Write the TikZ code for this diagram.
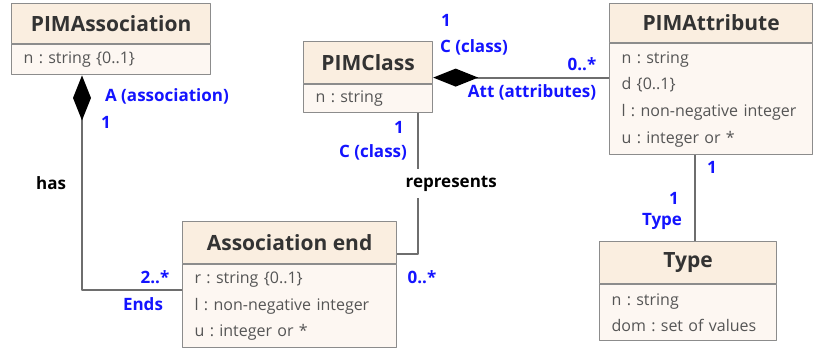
\documentclass[tikz,border=0pt]{standalone}
\usepackage{fontspec}
\setmainfont{Open Sans}
\frenchspacing
\hyphenpenalty=10000
\usetikzlibrary{arrows.meta}
\definecolor{headfill}{RGB}{250,238,224}
\definecolor{bodyfill}{RGB}{253,247,242}
\definecolor{boxline}{RGB}{140,140,140}
\definecolor{titletxt}{RGB}{51,51,51}
\definecolor{attrtxt}{RGB}{85,85,85}
\definecolor{rolecol}{RGB}{20,20,255}
\definecolor{linecol}{RGB}{110,110,110}
\begin{document}
\begin{tikzpicture}[x=1pt, y=-1pt, line join=round]
		\tikzset{head/.style={draw=boxline, line width=1.2pt, fill=headfill, text=titletxt, font=\fontsize{21}{24}\selectfont\bfseries, anchor=north west, inner sep=0pt},
		attrs/.style={draw=boxline, line width=1.2pt, fill=bodyfill, text=attrtxt, font=\fontsize{16}{26.7}\selectfont, anchor=north west, align=left, inner xsep=12pt, inner ysep=0pt},
		role/.style={text=rolecol, font=\fontsize{17}{20}\selectfont\bfseries, inner sep=0pt},
		verb/.style={text=black, font=\fontsize{17}{20}\selectfont\bfseries, inner xsep=0pt, inner ysep=7pt},
		conn/.style={draw=linecol, line width=2pt},
		comp/.style={conn, {Diamond[length=45pt, width=18pt, color=black]}-}}
		\fill[white] (0,0) rectangle (813,350);
		\useasboundingbox (0,0) rectangle (813,350);
		% classes
		\node[head, minimum width=199, minimum height=40] (assoch) at (11,3) {PIMAssociation};
		\node[attrs, text width=175pt, minimum height=30] (assocb) at (assoch.south west) {n : string \{0..1\}};
		\node[head, minimum width=129, minimum height=42] (classh) at (303,41) {PIMClass};
		\node[attrs, text width=105pt, minimum height=28] (classb) at (classh.south west) {n : string};
		\node[head, minimum width=203, minimum height=39] (attrh) at (609,3) {PIMAttribute};
		\node[attrs, text width=179pt, minimum height=111] (attrb) at (attrh.south west) {n : string\\ d \{0..1\}\\ l : non-negative integer\\ u : integer or *};
		\node[head, minimum width=214, minimum height=42] (endh) at (182,221) {Association end};
		\node[attrs, text width=190pt, minimum height=83] (endb) at (endh.south west) {r : string \{0..1\}\\ l : non-negative integer\\ u : integer or *};
		\node[head, minimum width=177, minimum height=42] (typeh) at (599,241) {Type};
		\node[attrs, text width=153pt, minimum height=56] (typeb) at (typeh.south west) {n : string\\ dom : set of values};
		% connectors
		\coordinate (cattach) at ([yshift=-15pt]classh.east);
		\coordinate (tattach) at ([xshift=-16.5pt]attrb.south);
		\draw[comp] ([xshift=71pt]assocb.south west) |- node[verb, pos=.25, left=15pt] (has) {has} ([yshift=-26pt]endb.north west);
		\draw[comp] (cattach) -- (cattach -| attrb.west);
		\draw[conn] ([xshift=-15pt]classb.south east) |- node[verb, pos=.25, fill=white, xshift=33pt] (rep) {represents} ([yshift=10pt]endh.south east);
		\draw[conn] (tattach) -- (tattach |- typeh.north);
		% roles and multiplicities
		\node[role] (rA) at (167,96) {A (association)};
		\node[role] (m1a) at (106,122) {1};
		\node[role] (m2e) at (155,277) {2..*};
		\node[role] (rEnds) at (143,304) {Ends};
		\node[role] (m1c) at (399,127) {1};
		\node[role] (rC1) at (373,152) {C (class)};
		\node[role] (m0e) at (422,277) {0..*};
		\node[role] (m1t) at (446,20) {1};
		\node[role] (rC2) at (474,47) {C (class)};
		\node[role] (m0a) at (582,64) {0..*};
		\node[role] (rAtt) at (532,92) {Att (attributes)};
		\node[role] (m1at) at (712,167) {1};
		\node[role] (m1ty) at (674,198) {1};
		\node[role] (rType) at (662,221) {Type};
	\end{tikzpicture}
\end{document}
